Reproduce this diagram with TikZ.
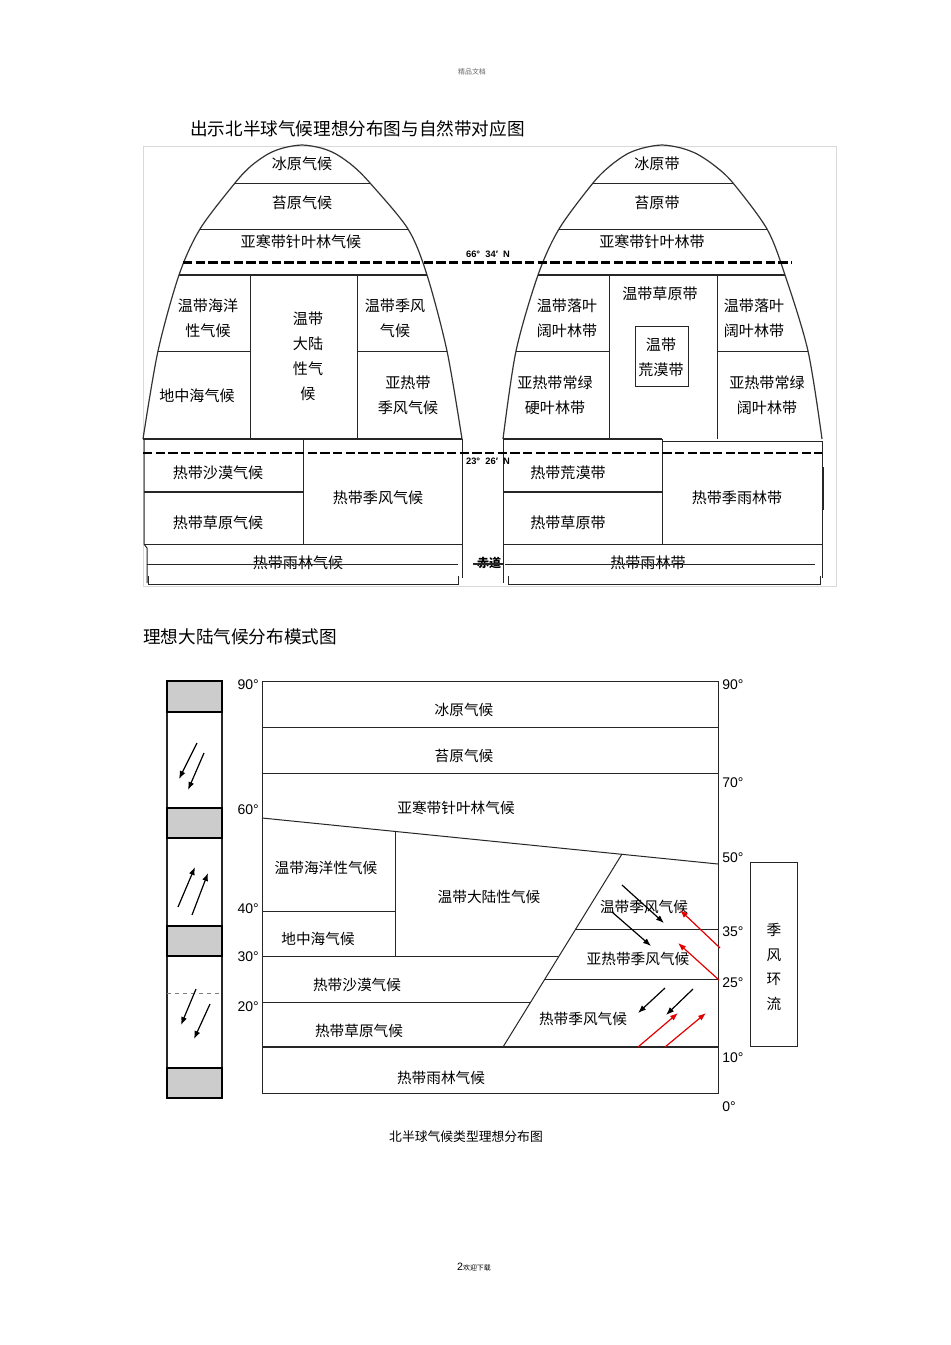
\documentclass[tikz,border=0pt]{standalone}
\usepackage{fontspec}
\setmainfont{Liberation Sans}
\newfontfamily\cjk{Noto Sans CJK SC}
\usetikzlibrary{arrows.meta}
\begin{document}
\begin{tikzpicture}[x=0.75pt,y=-0.75pt,
  ln/.style={line width=0.75pt,black!85},
  dome/.style={line width=0.9pt,black!80},
  tt/.style={font=\cjk\fontsize{11.3}{18.75}\selectfont,inner sep=0pt,align=center},
  bt/.style={font=\cjk\fontsize{11}{13}\selectfont,inner sep=0pt,align=center},
  deg/.style={font=\fontsize{10.5}{12}\selectfont,inner sep=0pt},
  hd/.style={font=\cjk\fontsize{13.2}{15}\selectfont,inner sep=0pt,anchor=west},
  lat/.style={font=\bfseries\fontsize{7}{8}\selectfont,inner sep=0pt},
  dsh/.style={line width=1.6pt,dash pattern=on 7pt off 2.5pt},
  barr/.style={line width=0.9pt,-{Latex[length=6pt,width=4.5pt]}},
  rarr/.style={line width=0.9pt,red!90!black,-{Latex[length=6pt,width=4.5pt]}},
  gbox/.style={fill=gray!40,draw=black,line width=1.2pt}
]
\useasboundingbox (0,0) rectangle (950,1345);
\fill[white] (0,0) rectangle (950,1345);

% header / footer
\node[font=\cjk\fontsize{5.2}{6}\selectfont,text=black!60,inner sep=0] (hdr) at (472,72) {精品文档};
\node[inner sep=0] (ftr) at (474,1267) {\fontsize{8}{9}\selectfont 2\cjk\fontsize{5.2}{6}\selectfont 欢迎下载};

% titles
\node[hd] (title1) at (190,129) {出示北半球气候理想分布图与自然带对应图};
\node[hd] (title2) at (143,637) {理想大陆气候分布模式图};

% ================= TOP DIAGRAM =================
\draw[gray!30,line width=0.75pt] (143,146) rectangle (836,586);

% ---- left dome ----
\draw[dome] plot[smooth,tension=0.5] coordinates {(143,439) (158,351) (179,275) (200,229) (235,183) (251,166) (268,154) (283,148) (302,145) (321,148) (336,154) (353,166) (370,183) (408,229) (427,275) (447,351) (462,439)};
\draw[ln] (235,183) -- (370,183);
\draw[ln] (200,229) -- (408,229);
\draw[ln,line width=1pt] (179,275) -- (427,275);
\draw[ln] (250,275) -- (250,439);
\draw[ln] (357,275) -- (357,439);
\draw[ln] (158,351) -- (250,351);
\draw[ln] (357,351) -- (447,351);
\draw[ln,line width=1pt] (143,439) -- (462,439);
\draw[ln] (144,439) -- (144,544) -- (147,548) -- (147,583);
\draw[ln] (462,439) -- (462,578);
\draw[ln] (303,439) -- (303,544);
\draw[ln,line width=1.2pt] (144,492) -- (303,492);
\draw[ln] (144,544) -- (462,544);
\draw[ln] (148,576) -- (148,584) -- (458,584) -- (458,576);

\node[tt] (l1) at (302,164) {冰原气候};
\node[tt] (l2) at (302,203) {苔原气候};
\node[tt] (l3) at (301,242) {亚寒带针叶林气候};
\node[tt] (l4) at (208,318) {温带海洋\\性气候};
\node[tt] (l5) at (308,356) {温带\\大陆\\性气\\候};
\node[tt] (l6) at (395,318) {温带季风\\气候};
\node[tt] (l7) at (197,396) {地中海气候};
\node[tt] (l8) at (408,395) {亚热带\\季风气候};
\node[tt] (l9) at (218,473) {热带沙漠气候};
\node[tt] (l10) at (218,523) {热带草原气候};
\node[tt] (l11) at (378,498) {热带季风气候};
\node[tt] (l12) at (298,563) {热带雨林气候};
\draw[ln] (147,564) -- (458,564);

% ---- right dome ----
\draw[dome] plot[smooth,tension=0.5] coordinates {(503,439) (516,351) (538,275) (559,229) (593,183) (610,166) (627,154) (643,148) (662,145) (681,148) (697,154) (715,166) (733,183) (767,229) (785,275) (808,351) (822,439)};
\draw[ln] (593,183) -- (733,183);
\draw[ln] (559,229) -- (767,229);
\draw[ln,line width=1pt] (538,275) -- (785,275);
\draw[ln] (609,275) -- (609,439);
\draw[ln] (717,275) -- (717,439);
\draw[ln] (516,351) -- (609,351);
\draw[ln] (717,351) -- (808,351);
\draw[ln] (635,326) rectangle (688,386);
\draw[ln,line width=1pt] (503,439) -- (662,439);
\draw[ln] (662,441) -- (822,441);
\draw[ln] (503,439) -- (503,583);
\draw[ln] (822,441) -- (822,578);
\draw[ln,line width=1.6pt] (823,467) -- (823,510);
\draw[ln] (662,439) -- (662,544);
\draw[ln,line width=1.2pt] (503,492) -- (662,492);
\draw[ln] (503,544) -- (822,544);
\draw[ln] (508,576) -- (508,584) -- (820,584) -- (820,576);

\node[tt] (r1) at (657,164) {冰原带};
\node[tt] (r2) at (657,203) {苔原带};
\node[tt] (r3) at (652,242) {亚寒带针叶林带};
\node[tt] (r4) at (567,318) {温带落叶\\阔叶林带};
\node[tt] (r5) at (660,294) {温带草原带};
\node[tt] (r6) at (661,357) {温带\\荒漠带};
\node[tt] (r7) at (754,318) {温带落叶\\阔叶林带};
\node[tt] (r8) at (555,395) {亚热带常绿\\硬叶林带};
\node[tt] (r9) at (767,395) {亚热带常绿\\阔叶林带};
\node[tt] (r10) at (568,473) {热带荒漠带};
\node[tt] (r11) at (568,523) {热带草原带};
\node[tt] (r12) at (737,498) {热带季雨林带};
\node[tt] (r13) at (648,563) {热带雨林带};
\draw[ln] (505,564) -- (815,564);

% dashed latitude lines and labels
\draw[dsh] (183,262.5) -- (792,262.5);
\draw[dsh] (143,453) -- (822,453);
\node[lat] (n66) at (488,254) {66° \ 34′ \ N};
\node[lat] (n23) at (488,461) {23° \ 26′ \ N};
\node[font=\cjk\bfseries\fontsize{9}{10}\selectfont,inner sep=0] (eq) at (489,563) {赤道};
\draw[ln,line width=1pt] (473,564) -- (503,564);

% ================= BOTTOM DIAGRAM =================
% left pressure / wind column
\draw[ln,line width=1pt] (167,681) -- (167,1098);
\draw[ln,line width=1.2pt] (222,681) -- (222,1098);
\draw[gbox] (167,681) rectangle (222,712);
\draw[gbox] (167,808) rectangle (222,838);
\draw[gbox] (167,926) rectangle (222,956);
\draw[gbox] (167,1068) rectangle (222,1098);
\draw[ln,gray,dashed] (167,993) -- (222,993);
\draw[barr] (197,743) -- (179,779);
\draw[barr] (204,753) -- (188,790);
\draw[barr] (178,907) -- (195,867);
\draw[barr] (192,915) -- (208,873);
\draw[barr] (196,989) -- (181,1025);
\draw[barr] (210,1004) -- (194,1039);

% main chart
\draw[ln] (262,681) rectangle (718,1093);
\draw[ln] (262,727) -- (718,727);
\draw[ln] (262,773) -- (718,773);
\draw[ln] (262,818) -- (718,864);
\draw[ln] (395,832) -- (395,956);
\draw[ln] (262,911) -- (395,911);
\draw[ln] (262,956) -- (558,956);
\draw[ln] (262,1002) -- (531,1002);
\draw[ln,line width=1.3pt] (262,1047) -- (718,1047);
\draw[ln] (622,854) -- (503,1047);
\draw[ln] (576,929) -- (718,929);
\draw[ln] (545,979) -- (718,979);

\node[bt] (b1) at (464,710) {冰原气候};
\node[bt] (b2) at (464,756) {苔原气候};
\node[bt] (b3) at (456,808) {亚寒带针叶林气候};
\node[bt] (b4) at (326,868) {温带海洋性气候};
\node[bt] (b5) at (489,897) {温带大陆性气候};
\node[bt] (b6) at (318,939) {地中海气候};
\node[bt] (b7) at (644,907) {温带季风气候};
\node[bt] (b8) at (638,959) {亚热带季风气候};
\node[bt] (b9) at (357,985) {热带沙漠气候};
\node[bt] (b10) at (359,1031) {热带草原气候};
\node[bt] (b11) at (583,1019) {热带季风气候};
\node[bt] (b12) at (441,1078) {热带雨林气候};

% wind arrows in chart
\draw[barr] (622,885) -- (664,923);
\draw[barr] (612,912) -- (651,946);
\draw[barr] (665,988) -- (638,1013);
\draw[barr] (693,989) -- (666,1015);
\draw[rarr] (720,948) -- (680,910);
\draw[rarr] (719,980) -- (678,943);
\draw[rarr] (638,1047) -- (678,1013);
\draw[rarr] (665,1047) -- (706,1013);

% degree labels
\node[deg,anchor=east] (d90l) at (259,685) {90°};
\node[deg,anchor=east] (d60l) at (259,810) {60°};
\node[deg,anchor=east] (d40l) at (259,909) {40°};
\node[deg,anchor=east] (d30l) at (259,957) {30°};
\node[deg,anchor=east] (d20l) at (259,1007) {20°};
\node[deg,anchor=west] (d90r) at (722,685) {90°};
\node[deg,anchor=west] (d70r) at (722,783) {70°};
\node[deg,anchor=west] (d50r) at (722,858) {50°};
\node[deg,anchor=west] (d35r) at (722,932) {35°};
\node[deg,anchor=west] (d25r) at (722,983) {25°};
\node[deg,anchor=west] (d10r) at (722,1058) {10°};
\node[deg,anchor=west] (d0r) at (722,1107) {0°};

% monsoon circulation box
\draw[ln] (750,862) rectangle (797,1046);
\node[bt,font=\cjk\fontsize{11}{18.5}\selectfont] (mon) at (774,967) {季\\风\\环\\流};

% caption
\node[font=\cjk\fontsize{9.6}{11}\selectfont,inner sep=0] (cap) at (466,1137) {北半球气候类型理想分布图};
\end{tikzpicture}
\end{document}
